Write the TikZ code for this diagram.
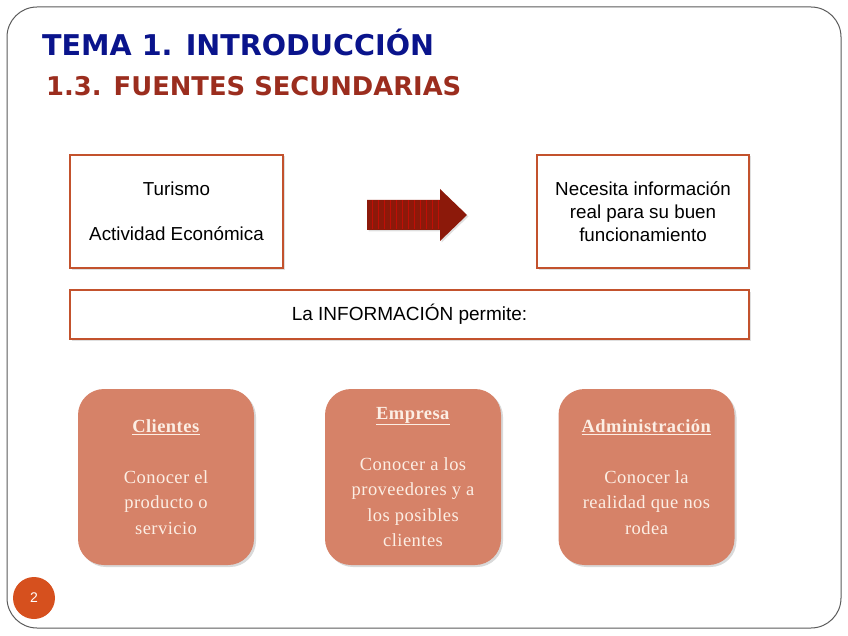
\documentclass[tikz,border=0pt]{standalone}
\usepackage{fontspec}
\setmainfont{Liberation Sans}
\newfontfamily\titlefont{DejaVu Sans}
\newfontfamily\boxserif[LetterSpace=2.5]{Liberation Serif}
\usetikzlibrary{shadows}
\definecolor{framegray}{RGB}{90,90,90}
\definecolor{titleblue}{RGB}{10,20,140}
\definecolor{subred}{RGB}{155,45,30}
\definecolor{boxline}{RGB}{195,82,45}
\definecolor{salmon}{RGB}{214,130,104}
\definecolor{cream}{RGB}{252,238,228}
\definecolor{arrowred}{RGB}{140,25,10}
\definecolor{pagecirc}{RGB}{214,80,30}
\tikzset{
  sqbox/.style={draw=boxline, line width=2.2pt, fill=white, inner sep=0pt,
    drop shadow={opacity=0.25, shadow xshift=1.5pt, shadow yshift=-1.5pt},
    align=center, font=\fontsize{18.8}{23}\selectfont},
  roundbox/.style={fill=salmon, rounded corners=26pt, inner sep=0pt,
    minimum width=176pt, minimum height=176pt, align=center,
    text=cream, font=\boxserif\fontsize{18.5}{25.5}\selectfont,
    drop shadow={opacity=0.3, shadow xshift=2pt, shadow yshift=-2pt}},
}
\newcommand{\boxhead}[1]{\underline{\textbf{#1}}}
\begin{document}
\begin{tikzpicture}[x=1pt,y=-1pt]
\useasboundingbox (0,0) rectangle (848,636);
\draw[framegray, line width=1pt, rounded corners=30pt] (7,7) rectangle (841,628);

\node[anchor=base west, inner sep=0pt, text=titleblue, font=\titlefont\bfseries\fontsize{28.6}{34}\selectfont] (title) at (42,56) {TEMA 1. INTRODUCCIÓN};
\node[anchor=base west, inner sep=0pt, text=subred, font=\titlefont\bfseries\fontsize{25.8}{30}\selectfont] (subtitle) at (46,96) {1.3. FUENTES SECUNDARIAS};

\node[sqbox, minimum width=213pt, minimum height=113pt] (turismo) at (176.5,211.5) {Turismo\\[22pt]Actividad Económica};
\node[sqbox, minimum width=212pt, minimum height=113pt] (necesita) at (643,211.5) {Necesita información\\real para su buen\\funcionamiento};
\node[sqbox, minimum width=679pt, minimum height=49pt, font=\fontsize{19}{23}\selectfont] (info) at (409.5,314.5) {La INFORMACIÓN permite:};

% arrow
\coordinate (arrowtail) at (367,215);
\fill[arrowred, drop shadow={opacity=0.25, shadow xshift=1.5pt, shadow yshift=-1.5pt}]
  (367,200) -- (440,200) -- (440,189) -- (467,215) -- (440,241) -- (440,230) -- (367,230) -- cycle;
\foreach \xx in {372,378,384,390,396,402,408,414,420,426,432,438}
  \draw[red!45!arrowred, line width=0.6pt] (\xx,200.5) -- (\xx,229.5);

\node[roundbox] (clientes) at (166,477) {\boxhead{Clientes}\\[25.5pt]Conocer el\\producto o\\servicio};
\node[roundbox] (empresa) at (413,477) {\boxhead{Empresa}\\[25.5pt]Conocer a los\\proveedores y a\\los posibles\\clientes};
\node[roundbox] (admin) at (646.5,477) {\boxhead{Administración}\\[25.5pt]Conocer la\\realidad que nos\\rodea};

\node[circle, fill=pagecirc, minimum size=42pt, inner sep=0pt, text=white, font=\fontsize{14}{16}\selectfont] (page) at (34,598) {2};
\end{tikzpicture}
\end{document}
